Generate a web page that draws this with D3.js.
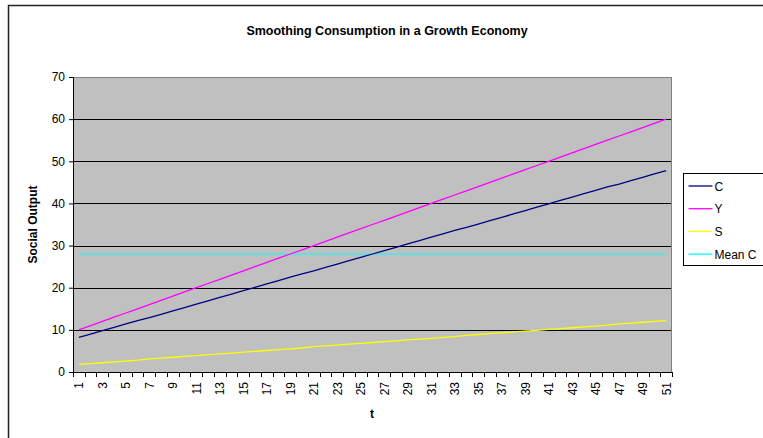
<!DOCTYPE html>
<html>
<head>
<meta charset="utf-8">
<script src="https://cdn.jsdelivr.net/npm/d3@7"></script>
<style>
  body { margin: 0; background: #fff; }
  svg { display: block; font-family: "Liberation Sans", Arial, sans-serif; }
</style>
</head>
<body>
<svg id="ctner"></svg>
<script>
// data
const periods = d3.range(1, 52);
const consumption = [8.2, 9.0, 9.8, 10.6, 11.4, 12.2, 12.9, 13.7, 14.5, 15.3,
  16.1, 16.9, 17.7, 18.5, 19.3, 20.1, 20.9, 21.7, 22.5, 23.3,
  24.0, 24.8, 25.6, 26.4, 27.2, 28.0, 28.8, 29.6, 30.4, 31.2,
  32.0, 32.8, 33.6, 34.3, 35.1, 35.9, 36.7, 37.5, 38.3, 39.1,
  39.9, 40.7, 41.5, 42.3, 43.1, 43.9, 44.6, 45.4, 46.2, 47.0, 47.8];
const output = [10, 11, 12, 13, 14, 15, 16, 17, 18, 19,
  20, 21, 22, 23, 24, 25, 26, 27, 28, 29,
  30, 31, 32, 33, 34, 35, 36, 37, 38, 39,
  40, 41, 42, 43, 44, 45, 46, 47, 48, 49,
  50, 51, 52, 53, 54, 55, 56, 57, 58, 59, 60];
const saving = [1.8, 2.0, 2.2, 2.4, 2.6, 2.8, 3.1, 3.3, 3.5, 3.7,
  3.9, 4.1, 4.3, 4.5, 4.7, 4.9, 5.1, 5.3, 5.5, 5.7,
  6.0, 6.2, 6.4, 6.6, 6.8, 7.0, 7.2, 7.4, 7.6, 7.8,
  8.0, 8.2, 8.4, 8.7, 8.9, 9.1, 9.3, 9.5, 9.7, 9.9,
  10.1, 10.3, 10.5, 10.7, 10.9, 11.1, 11.4, 11.6, 11.8, 12.0, 12.2];
const meanC = 28.0;
const yTicks = [0, 10, 20, 30, 40, 50, 60, 70];

const seriesNames = ["C", "Y", "S", "Mean C"];
const seriesColors = ["#000080", "#FF00FF", "#FFFF00", "#00FFFF"];

main();

function main() {
  const width = 763;
  const height = 438;
  const svg = d3.select("#ctner").attr("width", width).attr("height", height);

  const margin = { top: 77, left: 73, bottom: 66, right: 91 };
  const innerW = width - margin.left - margin.right;
  const innerH = height - margin.top - margin.bottom;

  /* chart frame, cropped on the right and bottom */
  svg.append("rect")
    .attr("x", 8.5).attr("y", 5.5)
    .attr("width", 800).attr("height", 500)
    .attr("fill", "#fff")
    .attr("stroke", "#222").attr("stroke-width", 1.5);

  svg.append("text")
    .attr("x", 387).attr("y", 35)
    .attr("text-anchor", "middle")
    .style("font-size", "12.5px").style("font-weight", "bold")
    .text("Smoothing Consumption in a Growth Economy");

  /* scales */
  const x = d3.scaleBand().domain(periods).range([0, innerW]);
  const y = d3.scaleLinear().domain([0, 70]).range([innerH, 0]);

  const g = svg.append("g").attr("transform", `translate(${margin.left}, ${margin.top})`);

  g.append("rect")
    .attr("width", innerW).attr("height", innerH)
    .attr("fill", "#C0C0C0");

  // gridlines
  g.append("g")
    .selectAll("line")
    .data(yTicks.filter((d) => d > 0 && d < 70))
    .join("line")
    .attr("x1", 0).attr("x2", innerW)
    .attr("y1", (d) => Math.round(y(d)) + 0.5)
    .attr("y2", (d) => Math.round(y(d)) + 0.5)
    .attr("stroke", "#000").attr("stroke-width", 1);

  g.append("rect")
    .attr("x", 0.5).attr("y", 0.5)
    .attr("width", innerW - 1).attr("height", innerH)
    .attr("fill", "none")
    .attr("stroke", "#808080").attr("stroke-width", 1);

  /* y axis */
  const yAxis = g.append("g")
    .call(d3.axisLeft(y).tickValues(yTicks).tickSize(4).tickPadding(4));
  yAxis.select(".domain").attr("stroke", "#000");
  yAxis.selectAll("text")
    .style("font-family", "Liberation Sans, Arial, sans-serif")
    .style("font-size", "12px").attr("fill", "#000");

  /* x axis: ticks between categories, labels every other category */
  const xAxisG = g.append("g").attr("transform", `translate(0, ${innerH})`);
  xAxisG.append("line")
    .attr("x1", 0).attr("x2", innerW)
    .attr("y1", 0.5).attr("y2", 0.5)
    .attr("stroke", "#000");
  xAxisG.selectAll(".tk")
    .data(d3.range(0, periods.length + 1))
    .join("line")
    .attr("class", "tk")
    .attr("x1", (i) => Math.round(i * x.step()) + 0.5)
    .attr("x2", (i) => Math.round(i * x.step()) + 0.5)
    .attr("y1", 0).attr("y2", 5)
    .attr("stroke", "#000");
  xAxisG.selectAll(".lbl")
    .data(periods.filter((d) => d % 2 === 1))
    .join("text")
    .attr("class", "lbl")
    .attr("transform", (d) => `translate(${x(d) + x.bandwidth() / 2 + 4.5}, 10) rotate(-90)`)
    .attr("text-anchor", "end")
    .style("font-size", "12px")
    .text((d) => d);

  /* axis titles */
  svg.append("text")
    .attr("transform", `translate(37, ${margin.top + innerH / 2}) rotate(-90)`)
    .attr("text-anchor", "middle")
    .style("font-size", "12px").style("font-weight", "bold")
    .text("Social Output");
  svg.append("text")
    .attr("x", 372).attr("y", 418)
    .attr("text-anchor", "middle")
    .style("font-size", "12px").style("font-weight", "bold")
    .text("t");

  /* lines */
  const cx = (d, i) => x(periods[i]) + x.bandwidth() / 2;
  const line = d3.line().x(cx).y((d) => y(d));
  const allSeries = [consumption, output, saving, periods.map(() => meanC)];
  const drawOrder = [3, 2, 1, 0];
  g.append("g")
    .selectAll("path")
    .data(drawOrder)
    .join("path")
    .attr("fill", "none")
    .attr("stroke", (k) => seriesColors[k])
    .attr("stroke-width", (k) => (k === 3 ? 1 : 1.3))
    .attr("d", (k) => line(allSeries[k]));

  /* legend, cropped on the right */
  const legend = svg.append("g").attr("transform", "translate(683.5, 173.5)");
  legend.append("rect")
    .attr("width", 100).attr("height", 92)
    .attr("fill", "#fff").attr("stroke", "#000");
  const item = legend.selectAll(".item")
    .data(seriesNames)
    .join("g")
    .attr("class", "item")
    .attr("transform", (d, i) => `translate(0, ${12.5 + i * 22.7})`);
  item.append("line")
    .attr("x1", 5).attr("x2", 29)
    .attr("stroke", (d, i) => seriesColors[i])
    .attr("stroke-width", 1.3);
  item.append("text")
    .attr("x", 31).attr("y", 4.5)
    .style("font-size", "12px")
    .text((d) => d);
}
</script>
</body>
</html>
